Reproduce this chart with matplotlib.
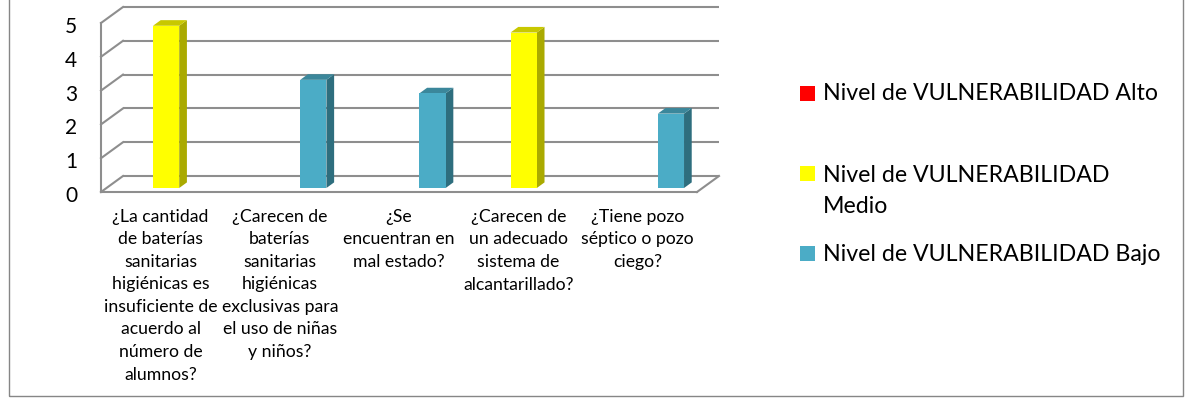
import numpy as np
import matplotlib
matplotlib.use("Agg")
import matplotlib.pyplot as plt
from matplotlib.patches import Polygon, Rectangle
from matplotlib.transforms import blended_transform_factory, ScaledTranslation

plt.rcParams['font.family'] = ['Lato', 'DejaVu Sans']

categories = [
    "¿La cantidad\nde baterías\nsanitarias\nhigiénicas es\ninsuficiente de\nacuerdo al\nnúmero de\nalumnos?",
    "¿Carecen de\nbaterías\nsanitarias\nhigiénicas\nexclusivas para\nel uso de niñas\ny niños?",
    "¿Se\nencuentran en\nmal estado?",
    "¿Carecen de\nun adecuado\nsistema de\nalcantarillado?",
    "¿Tiene pozo\nséptico o pozo\nciego?",
]
series_names = ["Nivel de VULNERABILIDAD Alto",
                "Nivel de VULNERABILIDAD\nMedio",
                "Nivel de VULNERABILIDAD Bajo"]
alto = [0, 0, 0, 0, 0]
medio = [4.8, 0, 0, 4.6, 0]
bajo = [0, 3.2, 2.8, 0, 2.2]
yticks = [0, 1, 2, 3, 4, 5]

# front / side / top colours per series
colors = {
    0: ("#FF0000", "#AA0000", "#CC0000"),
    1: ("#FFFF00", "#AAAA00", "#C8C800"),
    2: ("#4BACC6", "#2E6E7E", "#3B879B"),
}

W, H = 1188, 406
fig = plt.figure(figsize=(W / 100, H / 100), dpi=100)

# pixel geometry of the fake 3d box
x_px0, y_px0 = 101, 193        # front-left floor corner
cat_px = 119.2                 # pixels per category
val_px = 33.8                  # pixels per unit
DX = 22 / cat_px               # full depth shift (data units)
DY = 16 / val_px

xmin, xmax = -0.5, 4.75
ymin, ymax = 0, 5.5
ax = fig.add_axes([x_px0 / W, (H - y_px0) / H,
                   (xmax - xmin) * cat_px / W, (ymax - ymin) * val_px / H])
ax.set_xlim(xmin, xmax)
ax.set_ylim(ymin, ymax)
ax.axis('off')

# y tick labels next to the front edge of the side wall
tick_tr = ax.transData + ScaledTranslation(-24 / 100, -3 / 100, fig.dpi_scale_trans)
for t in yticks:
    ax.text(xmin, t, str(t), ha='right', va='center', fontsize=15, transform=tick_tr)

grid_c = "#8E8E8E"
glw = 1.5
n = len(categories)
x_end = n - 0.5
# back wall gridlines and side wall diagonals
for t in yticks:
    ax.plot([xmin + DX, x_end + DX], [t + DY, t + DY], color=grid_c, lw=glw,
            solid_capstyle='butt', clip_on=False)
    ax.plot([xmin, xmin + DX], [t, t + DY], color=grid_c, lw=glw, clip_on=False)
# front vertical edge of the side wall
ax.plot([xmin, xmin], [0, yticks[-1]], color=grid_c, lw=glw, clip_on=False)
# floor front and right edges
ax.plot([xmin, x_end], [0, 0], color=grid_c, lw=glw, clip_on=False)
ax.plot([x_end, x_end + DX], [0, DY], color=grid_c, lw=glw, clip_on=False)

# bars
slot = 0.235
bw = 0.22
d0, d1 = 0.25, 0.6
for si, vals in enumerate([alto, medio, bajo]):
    front, side, top = colors[si]
    for ci, v in enumerate(vals):
        if v <= 0:
            continue
        xl = ci + (si - 1) * slot - bw / 2 + d0 * DX
        xr = xl + bw
        yb = d0 * DY
        yt = v + yb
        ddx = (d1 - d0) * DX
        ddy = (d1 - d0) * DY
        ax.add_patch(Polygon([[xr, yb], [xr + ddx, yb + ddy], [xr + ddx, yt + ddy], [xr, yt]],
                             closed=True, facecolor=side, edgecolor='none', zorder=3))
        ax.add_patch(Polygon([[xl, yt], [xr, yt], [xr + ddx, yt + ddy], [xl + ddx, yt + ddy]],
                             closed=True, facecolor=top, edgecolor='none', zorder=3))
        ax.add_patch(Rectangle((xl, yb), bw, v, facecolor=front, edgecolor='none', zorder=4))

# category labels
lab_tr = blended_transform_factory(ax.transData, fig.transFigure)
for i, txt in enumerate(categories):
    ax.text(i, (H - 209) / H, txt, ha='center', va='top', fontsize=12.7,
            linespacing=1.5, transform=lab_tr, clip_on=False)

# legend
leg_y = [94, 174.5, 254.5]
for i, name in enumerate(series_names):
    fig.add_artist(Rectangle((800 / W, (H - leg_y[i] - 7.5) / H), 15 / W, 15 / H,
                             transform=fig.transFigure, facecolor=colors[i][0],
                             edgecolor='none'))
    if '\n' in name:
        fig.text(823 / W, (H - leg_y[i] + 9) / H, name, ha='left', va='top',
                 fontsize=16.7, linespacing=1.55)
    else:
        fig.text(823 / W, (H - leg_y[i]) / H, name, ha='left', va='center',
                 fontsize=16.7)

# outer frame
fig.add_artist(Rectangle((9 / W, (H - 397) / H), (1183 - 9) / W, 1, transform=fig.transFigure,
                         facecolor='none', edgecolor='#868686', lw=1.0))

fig.savefig("out.png", dpi=100)
